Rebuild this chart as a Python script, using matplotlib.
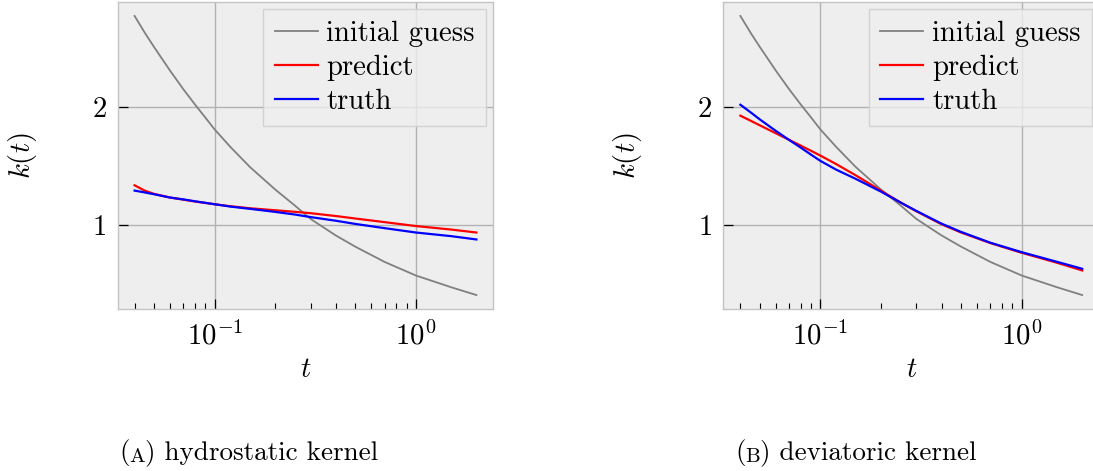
import matplotlib.pyplot as plt
import numpy as np
from matplotlib.ticker import FixedLocator, NullFormatter

plt.rcParams['font.family'] = 'serif'
plt.rcParams['font.serif'] = ['cmr10']
plt.rcParams['mathtext.fontset'] = 'cm'
plt.rcParams['axes.formatter.use_mathtext'] = True
plt.rcParams['axes.unicode_minus'] = True
plt.rcParams['font.size'] = 20.7

# values
t = [0.04, 0.045, 0.05, 0.06, 0.07, 0.08, 0.09, 0.1, 0.12, 0.15, 0.2, 0.25, 0.3,
     0.4, 0.5, 0.7, 1.0, 1.5, 2.0]
guess = [2.774, 2.63, 2.51, 2.31, 2.15, 2.02, 1.91, 1.81, 1.66, 1.49, 1.30, 1.165, 1.05,
         0.91, 0.815, 0.685, 0.57, 0.47, 0.404]

hydro_pred = [1.336, 1.29, 1.263, 1.232, 1.214, 1.198, 1.186, 1.175, 1.158, 1.141, 1.124,
              1.111, 1.099, 1.075, 1.054, 1.023, 0.99, 0.96, 0.935]
hydro_true = [1.291, 1.275, 1.26, 1.232, 1.216, 1.20, 1.187, 1.175, 1.155, 1.136, 1.11,
              1.088, 1.066, 1.035, 1.008, 0.972, 0.935, 0.904, 0.876]

dev_pred = [1.927, 1.884, 1.845, 1.778, 1.721, 1.672, 1.628, 1.588, 1.515, 1.42, 1.29,
            1.19, 1.115, 1.005, 0.935, 0.845, 0.763, 0.678, 0.613]
dev_true = [2.02, 1.955, 1.895, 1.798, 1.72, 1.655, 1.595, 1.543, 1.468, 1.39, 1.282,
            1.19, 1.118, 1.01, 0.94, 0.848, 0.768, 0.686, 0.627]

W, H = 1093, 471
fig = plt.figure(figsize=(W / 100, H / 100), dpi=100)

panels = [
    (117.5, hydro_pred, hydro_true, 'A', ') hydrostatic kernel', 119),
    (723.3, dev_pred, dev_true, 'B', ') deviatoric kernel', 735),
]

for left, pred, true, letter, caption, cx in panels:
    ax = fig.add_axes([left / W, 1 - 309 / H, 376 / W, 307 / H])
    ax.set_facecolor('#eeeeee')
    ax.plot(t, guess, color='gray', lw=1.3, label='initial guess')
    ax.plot(t, pred, color='red', lw=1.6, label='predict')
    ax.plot(t, true, color='blue', lw=1.6, label='truth')
    ax.set_xscale('log')
    ax.xaxis.set_minor_locator(FixedLocator([0.04, 0.05, 0.06, 0.07, 0.08, 0.09,
                                             0.2, 0.3, 0.4, 0.5, 0.6, 0.7, 0.8, 0.9]))
    ax.xaxis.set_minor_formatter(NullFormatter())
    ax.set_yticks([1, 2])
    ax.grid(True, which='major', color='#b2b2b2', lw=1)
    ax.set_axisbelow(True)
    for s in ax.spines.values():
        s.set_color('#c4c4c4')
        s.set_linewidth(1)
    ax.tick_params(which='both', direction='in', top=False, right=False, color='black')
    ax.tick_params(which='major', length=7.5, width=0.9)
    ax.tick_params(which='minor', length=4.3, width=0.8)
    ax.tick_params(axis='x', which='major', pad=9)
    ax.tick_params(axis='y', which='major', pad=8)
    ax.set_xlabel(r'$t$', labelpad=4)
    ax.set_ylabel(r'$k(t)$')
    ax.yaxis.set_label_coords(-0.21, 0.5)
    ax.legend(loc='upper right', borderaxespad=0.25, handlelength=1.5,
              handletextpad=0.3, labelspacing=0.26, borderpad=0.4,
              fancybox=False, edgecolor='#cccccc', facecolor='#eeeeee',
              framealpha=0.8)

    # caption with a small-caps letter
    t1 = fig.text(cx / W, 1 - 459 / H, '(', fontsize=19.5, va='baseline')
    a2 = fig.add_artist(plt.Annotation(letter, xy=(1, 0), xycoords=t1, fontsize=15,
                                       va='bottom', ha='left'))
    fig.add_artist(plt.Annotation(caption, xy=(1, 0), xycoords=a2, fontsize=19.5,
                                  va='bottom', ha='left'))

fig.savefig('out.png', dpi=100)
